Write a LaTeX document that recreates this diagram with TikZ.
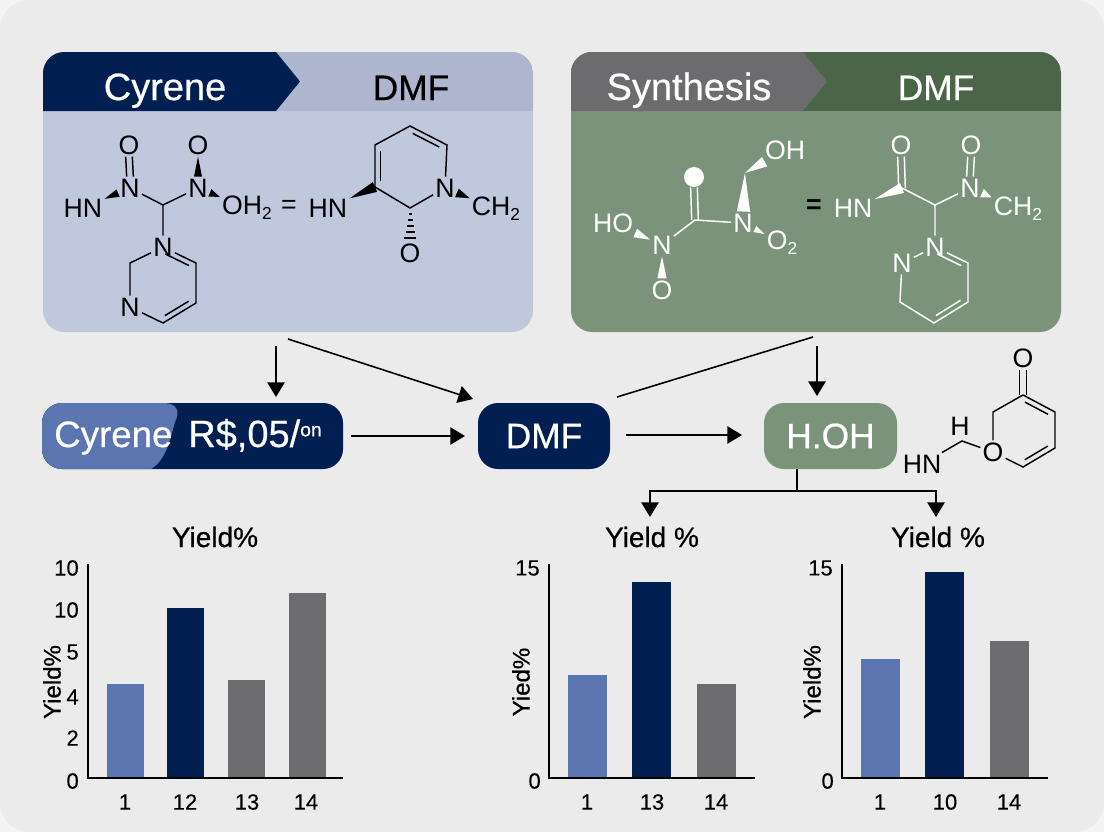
\documentclass[tikz,border=0pt]{standalone}
\usepackage{fontspec}
\setmainfont{Liberation Sans}
\newfontfamily\medfont{Liberation Sans}[FakeBold=0.6]
\newfontfamily\tickfont{Liberation Sans}[FakeBold=0.25]
\usepackage{tikz}
\usetikzlibrary{arrows.meta, calc}

\definecolor{navy}{HTML}{011F50}
\definecolor{midblue}{HTML}{5A75AF}
\definecolor{paleblue}{HTML}{C0C8DE}
\definecolor{headblue}{HTML}{AEB6CF}
\definecolor{sage}{HTML}{7B937B}
\definecolor{headgreen}{HTML}{4A6548}
\definecolor{slate}{HTML}{6C6C6E}
\definecolor{card}{HTML}{EBEBEB}
\definecolor{cardout}{HTML}{F4F4F4}

% wedge between two atoms: narrow end at #3, wide end at #4
\newcommand{\wedgebond}[4][black]{%
    \path (#3) -- (#4) coordinate[pos=0] (w1) coordinate[pos=1] (w2);
    \fill[#1] (w1) -- ($(w2)!#2!90:(w1)$) -- ($(w2)!#2!-90:(w1)$) -- cycle;}
% double bond, second stroke on the inner side
\newcommand{\inbond}[4][bond]{%
    \draw[#1] ($(#2)!0.14!(#3)!#4!-90:(#3)$) -- ($(#3)!0.14!(#2)!#4!90:(#2)$);}
% sans subscript in the atom labels
\newcommand{\lowtwo}{\raisebox{-4pt}{\fontsize{13}{13}\selectfont 2}}
\newcommand{\bigsize}{\fontsize{28.5}{28.5}\selectfont}

\begin{document}
\begin{tikzpicture}[x=0.75pt, y=-0.75pt,
    atom/.style={inner sep=1.5pt, font=\fontsize{20}{20}\selectfont, text=#1},
    atom/.default=black,
    bond/.style={line width=1.1pt},
    bondw/.style={line width=1.1pt, white},
    lnk/.style={-{Triangle[length=11pt, width=13pt]}, line width=1.2pt},
    pill/.style={rounded corners=15pt, minimum height=49.5pt, text=white,
        font=\medfont\fontsize{26.5}{26.5}\selectfont},
    head/.style={anchor=base, font=\medfont\fontsize{26.5}{26.5}\selectfont},
    chtitle/.style={font=\medfont\fontsize{21}{21}\selectfont},
    tick/.style={font=\tickfont\fontsize{16.5}{16.5}\selectfont},
    ylab/.style={font=\medfont\fontsize{18}{18}\selectfont, rotate=90},
]

% ---- Background ----
\fill[cardout] (0,0) rectangle (1104,832);
\fill[card, rounded corners=22pt] (0,0) rectangle (1104,832);
\useasboundingbox (0,0) rectangle (1104,832);

% ---- Left panel ----
\fill[paleblue, rounded corners=16pt] (43,52) rectangle (533,332);
\begin{scope}
\clip[rounded corners=16pt] (43,52) rectangle (533,332);
\fill[headblue] (43,52) rectangle (533,111);
\fill[navy] (43,52) -- (276,52) -- (300,81.5) -- (276,111) -- (43,111) -- cycle;
\end{scope}
\node[head, text=white] (headc) at (165,100) {\bigsize Cyrene};
\node[head] (headd) at (411,100) {DMF};

% ---- Right panel ----
\fill[sage, rounded corners=16pt] (571,52) rectangle (1061,332);
\begin{scope}
\clip[rounded corners=16pt] (571,52) rectangle (1061,332);
\fill[headgreen] (571,52) rectangle (1061,111);
\fill[slate] (571,52) -- (803,52) -- (827,81.5) -- (803,111) -- (571,111) -- cycle;
\end{scope}
\node[head, text=white] (heads) at (689,100) {\bigsize Synthesis};
\node[head, text=white] (heade) at (936,100) {DMF};

% ---- Left panel, first molecule ----
\node[atom] (a1) at (83,208) {HN};
\node[atom] (a2) at (130,188) {N};
\node[atom] (a3) at (129,145) {O};
\node[atom] (a4) at (198,188) {N};
\node[atom] (a5) at (198,145) {O};
\node[atom] (a6) at (247,208) {OH\lowtwo};
\coordinate (a7) at (163,205);
\node[atom] (a8) at (163,247) {N};
\coordinate (a9) at (196,263);
\coordinate (a10) at (196,303);
\coordinate (a11) at (163,323);
\node[atom] (a12) at (130,307) {N};
\coordinate (a13) at (130,263);
\draw[bond] ([xshift=-2.5pt]a2.north) -- ([xshift=-2.5pt]a3.south);
\draw[bond] ([xshift=2.5pt]a2.north) -- ([xshift=2.5pt]a3.south);
\draw[bond] (a2) -- (a7) -- (a4);
\draw[bond] (a7) -- (a8) -- (a9) -- (a10) -- (a11) -- (a12) -- (a13) -- (a8);
\inbond{a8}{a9}{4pt}
\inbond{a10}{a11}{4pt}
\wedgebond{3pt}{a1}{a2}
\wedgebond{3pt}{a5}{a4}
\wedgebond{3pt}{a6}{a4}

% ---- Left panel, second molecule ----
\node[atom, font=\fontsize{20}{20}\selectfont] (e1) at (289,207) {=};
\node[atom] (b1) at (328,208) {HN};
\coordinate (b2) at (375,187);
\coordinate (b3) at (375,145);
\coordinate (b4) at (410,126);
\coordinate (b5) at (447,145);
\node[atom] (b6) at (445,188) {N};
\coordinate (b7) at (410,208);
\node[atom] (b8) at (410,253) {O};
\node[atom] (b9) at (496,209) {CH\lowtwo};
\draw[bond] (b2) -- (b3) -- (b4) -- (b5) -- (b6) -- (b7) -- (b2);
\inbond{b2}{b3}{4pt}
\inbond{b4}{b5}{4pt}
\wedgebond{4pt}{b1}{b2}
\wedgebond{3.5pt}{b9}{b6}
\foreach \hy/\hw in {6/1.5, 12/2.5, 18/3.5, 24/4.5, 30/6}
    \draw[line width=0.9pt] ($(b7)+(-\hw,\hy)$) -- ($(b7)+(\hw,\hy)$);

% ---- Right panel, first molecule ----
\node[atom=white] (c1) at (613,223) {HO};
\node[atom=white] (c2) at (662,245) {N};
\node[atom=white] (c3) at (662,290) {O};
\coordinate (c4) at (695,220);
\node[circle, fill=white, minimum size=15pt, inner sep=0pt] (c5) at (694,177) {};
\node[atom=white] (c6) at (743,223) {N};
\coordinate (c7) at (745,173);
\node[atom=white] (c8) at (785,150) {OH};
\node[atom=white] (c9) at (782,243) {O\lowtwo};
\draw[bondw] (c2) -- (c4) -- (c6);
\draw[bondw] ([xshift=-2.5pt]c4) -- ([xshift=-2.5pt]c5.south);
\draw[bondw] ([xshift=2.5pt]c4) -- ([xshift=2.5pt]c5.south);
\wedgebond[white]{3.5pt}{c2}{c1}
\wedgebond[white]{3.5pt}{c2}{c3}
\wedgebond[white]{5pt}{c7}{c6}
\wedgebond[white]{4pt}{c7}{c8}
\wedgebond[white]{2.5pt}{c9}{c6}

% ---- Right panel, second molecule ----
\node[atom, font=\bfseries\fontsize{20}{20}\selectfont] (e2) at (814,207) {=};
\node[atom=white] (d1) at (853,208) {HN};
\coordinate (d2) at (902,188);
\node[atom=white] (d3) at (901,145) {O};
\coordinate (d4) at (935,205);
\node[atom=white] (d5) at (970,188) {N};
\node[atom=white] (d6) at (971,145) {O};
\node[atom=white] (d7) at (1018,209) {CH\lowtwo};
\node[atom=white] (d8) at (935,247) {N};
\node[atom=white] (d9) at (902,263) {N};
\coordinate (d10) at (968,263);
\coordinate (d11) at (968,302);
\coordinate (d12) at (934,323);
\coordinate (d13) at (900,302);
\draw[bondw] ([xshift=-2.5pt]d2) -- ([xshift=-2.5pt]d3.south);
\draw[bondw] ([xshift=2.5pt]d2) -- ([xshift=2.5pt]d3.south);
\draw[bondw] ([xshift=-2.5pt]d5.north) -- ([xshift=-2.5pt]d6.south);
\draw[bondw] ([xshift=2.5pt]d5.north) -- ([xshift=2.5pt]d6.south);
\draw[bondw] (d2) -- (d4) -- (d5);
\draw[bondw] (d4) -- (d8) -- (d10) -- (d11) -- (d12) -- (d13) -- (d9) -- (d8);
\inbond[bondw]{d8}{d10}{4pt}
\inbond[bondw]{d11}{d12}{4pt}
\wedgebond[white]{4pt}{d1}{d2}
\wedgebond[white]{3.5pt}{d7}{d5}

% ---- Middle row ----
\node[pill, fill=navy, minimum width=225.75pt] (cost) at (192.5,436) {};
\begin{scope}
\clip[rounded corners=15pt] (42,403) rectangle (343,469);
\fill[midblue] (42,403) -- (163,403) .. controls (178,403) and (180,412) .. (175,422) .. controls (170,440) and (166,460) .. (151,469) -- (42,469) -- cycle;
\end{scope}
\node[pill, anchor=base west, inner sep=0pt, minimum height=0pt] (costa) at (54,447) {\fontsize{27.5}{27.5}\selectfont Cyrene};
\node[pill, anchor=base west, inner sep=0pt, minimum height=0pt] (costb) at (188,447) {\bigsize R\$,05/\raisebox{8pt}{\fontsize{14.5}{14.5}\selectfont on}};
\node[pill, fill=navy, minimum width=99pt] (dmf) at (544,436) {DMF};
\node[pill, fill=sage, minimum width=99.75pt] (hoh) at (830.5,436) {H.OH};

% ---- Arrows ----
\coordinate (f1) at (276,346);
\coordinate (f2) at (288,339);
\coordinate (f3) at (473,399);
\coordinate (f4) at (617,397);
\coordinate (f5) at (813,337);
\coordinate (f6) at (817,346);
\coordinate (f7) at (351,436);
\coordinate (f8) at (465,436);
\coordinate (f9) at (626,435);
\coordinate (f10) at (742,435);
\coordinate (f11) at (797,491);
\draw[lnk] (f1) -- (276,397);
\draw[lnk] (f2) -- (f3);
\draw[line width=1.2pt] (f4) -- (f5);
\draw[lnk] (f6) -- (817,396);
\draw[lnk] (f7) -- (f8);
\draw[lnk] (f9) -- (f10);
\draw[line width=1.2pt] (hoh.south -| f11) -- (f11);
\draw[lnk] (f11) -| (650,517);
\draw[lnk] (f11) -| (936,517);

% ---- Third molecule ----
\node[atom] (g1) at (1023,358) {O};
\coordinate (g2) at (1023,395);
\coordinate (g3) at (1055,412);
\coordinate (g4) at (1055,448);
\coordinate (g5) at (1023,467);
\node[atom] (g6) at (993,452) {O};
\coordinate (g7) at (993,412);
\coordinate (g8) at (962,441);
\node[atom] (g9) at (960,426) {H};
\node[atom] (g10) at (922,464) {HN};
\draw[bond] (g2) -- (g3) -- (g4) -- (g5) -- (g6) -- (g7) -- (g2);
\inbond{g2}{g3}{4pt}
\inbond{g4}{g5}{4pt}
\draw[bond] ([xshift=-2.5pt]g2) -- ([xshift=-2.5pt]g1.south);
\draw[bond] ([xshift=2.5pt]g2) -- ([xshift=2.5pt]g1.south);
\draw[bond] (g10) -- (g8) -- (g6);

% ---- Chart 1 ----
\node[chtitle] (t1) at (215,537) {Yield\%};
\node[ylab] (y1) at (52,682) {Yield\%};
\foreach \lab/\py [count=\i] in {10/568, 10/610, 5/652, 4/697, 2/738, 0/781}
    \node[tick, anchor=east, inner sep=0pt] (v1\i) at (79,\py) {\lab};
\foreach \bx/\bt/\bc [count=\i] in {107/684/midblue, 167/608/navy, 228/680/slate, 289/593/slate}
    \fill[\bc] (\bx,\bt) rectangle (\bx+37,778);
\foreach \lab/\px [count=\i] in {1/125, 12/185, 13/247, 14/306}
    \node[tick] (x1\i) at (\px,802) {\lab};
\draw[line width=1.2pt] (88,564) -- (88,778) -- (343,778);

% ---- Chart 2 ----
\node[chtitle] (t2) at (652,537) {Yield \%};
\node[ylab] (y2) at (521,682) {Yied\%};
\node[tick, anchor=east, inner sep=0pt] (v21) at (540,568) {15};
\node[tick, anchor=east, inner sep=0pt] (v22) at (541,781) {0};
\foreach \bx/\bt/\bc [count=\i] in {568/675/midblue, 632/582/navy, 697/684/slate}
    \fill[\bc] (\bx,\bt) rectangle (\bx+39,778);
\foreach \lab/\px [count=\i] in {1/587, 13/652, 14/716}
    \node[tick] (x2\i) at (\px,802) {\lab};
\draw[line width=1.2pt] (549,564) -- (549,778) -- (755,778);

% ---- Chart 3 ----
\node[chtitle] (t3) at (938,537) {Yield \%};
\node[ylab] (y3) at (812,682) {Yield\%};
\node[tick, anchor=east, inner sep=0pt] (v31) at (833,568) {15};
\node[tick, anchor=east, inner sep=0pt] (v32) at (834,781) {0};
\foreach \bx/\bt/\bc [count=\i] in {861/659/midblue, 925/572/navy, 990/641/slate}
    \fill[\bc] (\bx,\bt) rectangle (\bx+39,778);
\foreach \lab/\px [count=\i] in {1/880, 10/945, 14/1009}
    \node[tick] (x3\i) at (\px,802) {\lab};
\draw[line width=1.2pt] (842,564) -- (842,778) -- (1048,778);

\end{tikzpicture}
\end{document}
